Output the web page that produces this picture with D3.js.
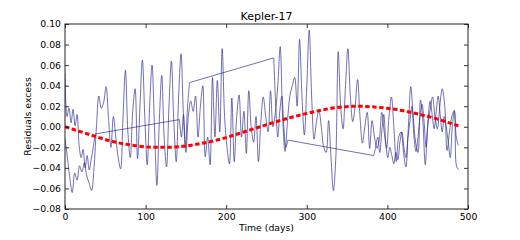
<!DOCTYPE html>
<html>
<head>
<meta charset="utf-8">
<script src="https://cdn.jsdelivr.net/npm/d3@7"></script>
<style>
body { margin: 0; background: #fff; }
svg { display: block; }
text { font-family: "DejaVu Sans", sans-serif; fill: #000; }
</style>
</head>
<body>
<div id="chart"></div>
<script>
// residuals, trace A: one point every 3 days from day 0
var traceAStart = 0, traceAStep = 3;
var traceA = [
  -0.011, -0.030, -0.050, -0.064, -0.045, -0.052, -0.038, -0.044, -0.035, -0.048,
  -0.055, -0.062, -0.040, 0.000, 0.030, 0.018, 0.024, 0.039, 0.008, -0.020,
  0.010, -0.010, -0.030, -0.041, 0.010, 0.055, -0.005, -0.030, 0.015, 0.037,
  -0.031, 0.020, 0.065, 0.010, -0.037, 0.020, 0.060, 0.000, -0.057, 0.005,
  0.050, -0.010, -0.039, 0.020, 0.064, 0.005, -0.034, 0.030, 0.071, 0.010,
  -0.025, 0.010, 0.025, 0.015, 0.030, -0.010, 0.020, 0.040, -0.029, -0.010,
  -0.037, 0.048, -0.010, 0.045, -0.005, 0.076, 0.010, -0.020, -0.036, 0.028,
  -0.034, 0.010, 0.031, -0.010, 0.015, -0.026, 0.035, 0.000, -0.015, 0.010,
  -0.034, 0.005, 0.029, 0.010, -0.005, 0.035, 0.000, 0.014, 0.040, 0.078,
  0.010, -0.024, 0.005, 0.030, 0.040, 0.048, 0.020, 0.085, 0.030, -0.008,
  0.040, 0.094, 0.030, -0.012, 0.005, 0.016, 0.000, -0.020, -0.025, 0.006,
  -0.030, -0.062, -0.030, 0.073, 0.020, -0.002, 0.040, 0.076, 0.030, 0.005,
  0.020, 0.046, 0.010, -0.016, 0.000, 0.014, -0.021, 0.006, -0.010, -0.021,
  -0.012, 0.014, -0.005, -0.021, 0.010, 0.029, 0.000, -0.034, -0.010, -0.005,
  -0.025, -0.039, 0.000, 0.039, 0.010, -0.015, -0.025, 0.026, 0.005, -0.037,
  0.000, 0.016, 0.029, 0.010, -0.002, 0.020, 0.037, 0.022, -0.023, -0.005,
  0.010, 0.016, -0.039, -0.042
];

// residuals, trace B: four pieces with gaps, one point every 2.5 days
var traceBStep = 2.5;
var traceBStarts = [0, 142, 259, 383];
var traceB1 = [0.052, 0.010, 0.018, 0.004, 0.017, 0.001, 0.012, -0.018,
  -0.030, -0.022, -0.040, -0.028, -0.042, -0.032, -0.020, -0.007];
var traceB2 = [0.007, -0.010, 0.012, -0.020, 0.019, 0.043];
var traceB3 = [0.067, 0.020, -0.010, 0.015, 0.030, 0.000, -0.020, -0.013];
var traceB4 = [-0.028, -0.020, -0.010, -0.025, -0.005, 0.012, -0.015, -0.030, -0.020, -0.028,
  -0.036, -0.025, -0.032, -0.015, -0.005, -0.020, -0.030, -0.010, 0.005, 0.020,
  -0.010, -0.024, -0.010, 0.010, 0.022, 0.005, -0.020, 0.008, 0.025, 0.012,
  -0.002, 0.015, 0.030, 0.012, -0.005, 0.010, 0.000, -0.015, -0.030, 0.000,
  0.015, -0.010, -0.018];

// fitted model (red dashed)
var fitDays = [0, 20, 40, 60, 80, 100, 120, 140, 160, 180, 200, 220, 240,
  260, 280, 300, 320, 340, 360, 380, 400, 420, 440, 460, 480, 490];
var fitValues = [0.000, -0.005, -0.010, -0.0145, -0.0175, -0.0195, -0.0200, -0.0195,
  -0.0175, -0.0145, -0.0105, -0.0055, -0.0005, 0.0045, 0.0090, 0.0130, 0.0165,
  0.0190, 0.0200, 0.0195, 0.0180, 0.0155, 0.0120, 0.0080, 0.0030, 0.0005];

var xTicks = [0, 100, 200, 300, 400, 500];
var yTicks = [-0.08, -0.06, -0.04, -0.02, 0.00, 0.02, 0.04, 0.06, 0.08, 0.10];

function draw() {
  var width = 520, height = 240;
  var mLeft = 65, mRight = 468, mTop = 24, mBottom = 209;

  var svg = d3.select("#chart").append("svg")
    .attr("width", width).attr("height", height);
  svg.append("rect").attr("width", width).attr("height", height).attr("fill", "#fff");

  var x = d3.scaleLinear().domain([0, 500]).range([mLeft, mRight]);
  var y = d3.scaleLinear().domain([-0.08, 0.10]).range([mBottom, mTop]);

  function toPoints(start, step, vals) {
    return vals.map(function(v, i) { return [start + i * step, v]; });
  }

  svg.append("clipPath").attr("id", "plotclip").append("rect")
    .attr("x", mLeft).attr("y", mTop).attr("width", mRight - mLeft).attr("height", mBottom - mTop);

  var smooth = d3.line()
    .x(function(d) { return x(d[0]); })
    .y(function(d) { return y(d[1]); })
    .curve(d3.curveCatmullRom.alpha(0.5));
  var straight = d3.line()
    .x(function(d) { return x(d[0]); })
    .y(function(d) { return y(d[1]); });

  var plot = svg.append("g").attr("clip-path", "url(#plotclip)");
  var blue = plot.append("g").attr("fill", "none")
    .attr("stroke", "#2b2b8c").attr("stroke-width", 0.8).attr("stroke-opacity", 0.85);

  blue.append("path").attr("d", smooth(toPoints(traceAStart, traceAStep, traceA)));

  var segsB = [traceB1, traceB2, traceB3, traceB4].map(function(vals, k) {
    return toPoints(traceBStarts[k], traceBStep, vals);
  });
  segsB.forEach(function(pts, k) {
    blue.append("path").attr("d", smooth(pts));
    if (k < segsB.length - 1) {
      blue.append("path").attr("d", straight([pts[pts.length - 1], segsB[k + 1][0]]));
    }
  });

  var fitLine = d3.line()
    .x(function(d, i) { return x(fitDays[i]); })
    .y(function(d) { return y(d); })
    .curve(d3.curveNatural);
  plot.append("path").attr("d", fitLine(fitValues))
    .attr("fill", "none").attr("stroke", "#ff0000")
    .attr("stroke-width", 3).attr("stroke-dasharray", "4.5,2.5");

  // axes, ticks pointing inwards on all four sides
  var fmt = d3.format(".2f");
  var axL = svg.append("g").attr("transform", "translate(" + mLeft + ",0)")
    .call(d3.axisLeft(y).tickValues(yTicks).tickFormat(fmt).tickSize(-4).tickPadding(4));
  var axR = svg.append("g").attr("transform", "translate(" + mRight + ",0)")
    .call(d3.axisRight(y).tickValues(yTicks).tickFormat("").tickSize(-4));
  var axB = svg.append("g").attr("transform", "translate(0," + mBottom + ")")
    .call(d3.axisBottom(x).tickValues(xTicks).tickSize(-4).tickPadding(4));
  var axT = svg.append("g").attr("transform", "translate(0," + mTop + ")")
    .call(d3.axisTop(x).tickValues(xTicks).tickFormat("").tickSize(-4));

  [axL, axR, axB, axT].forEach(function(a) {
    a.select(".domain").remove();
    a.selectAll("line").attr("stroke", "#000").attr("stroke-width", 0.8);
    a.selectAll("text").attr("font-size", 9.3).attr("font-family", "DejaVu Sans, sans-serif");
  });

  svg.append("rect")
    .attr("x", mLeft).attr("y", mTop).attr("width", mRight - mLeft).attr("height", mBottom - mTop)
    .attr("fill", "none").attr("stroke", "#222").attr("stroke-width", 1);

  svg.append("text").attr("x", (mLeft + mRight) / 2).attr("y", 20)
    .attr("text-anchor", "middle").attr("font-size", 11).text("Kepler-17");
  svg.append("text").attr("x", (mLeft + mRight) / 2).attr("y", 231)
    .attr("text-anchor", "middle").attr("font-size", 9.3).text("Time (days)");
  svg.append("text").attr("transform", "translate(31," + ((mTop + mBottom) / 2) + ") rotate(-90)")
    .attr("text-anchor", "middle").attr("font-size", 9.3).text("Residuals excess");
}
draw();
</script>
</body>
</html>
